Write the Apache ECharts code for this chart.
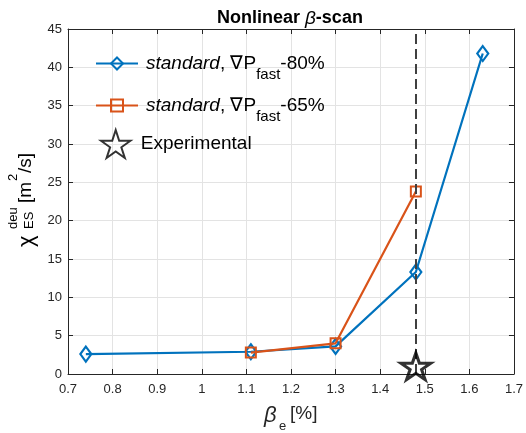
<!DOCTYPE html>
<html>
<head>
<meta charset="utf-8">
<script src="https://cdn.jsdelivr.net/npm/echarts@6/dist/echarts.min.js"></script>
<style>
html,body{margin:0;padding:0;background:#fff;}
#c{width:526px;height:433px;}
</style>
</head>
<body>
<div id="c"></div>
<script>
// ---- data ----
const blueX = [0.74, 1.11, 1.30, 1.48, 1.63];
const blueY = [2.6, 2.9, 3.6, 13.3, 41.8];
const orangeX = [1.11, 1.30, 1.48];
const orangeY = [2.8, 4.0, 23.8];
const expX = [1.48];
const expY = [1.0];
const xTicks = [0.7, 0.8, 0.9, 1.0, 1.1, 1.2, 1.3, 1.4, 1.5, 1.6, 1.7];
const yTicks = [0, 5, 10, 15, 20, 25, 30, 35, 40, 45];
const seriesNames = ['s80', 's65', 'Experimental'];
const legendTexts = {
  s80: '{i|standard}{m|, ∇P}{s|fast}{m|-80%}',
  s65: '{i|standard}{m|, ∇P}{s|fast}{m|-65%}',
  Experimental: '{e|Experimental}'
};

const BLUE = '#0072BD', ORANGE = '#D95319';
const FONT = '"Liberation Sans", Arial, Helvetica, sans-serif';
const STAR = 'path://M100,0 L122.45,69.1 L195.1,69.1 L136.33,111.8 L158.78,180.9 L100,138.2 L41.22,180.9 L63.67,111.8 L4.9,69.1 L77.55,69.1 Z';

const pairs = (xs, ys) => xs.map((x, i) => [x, ys[i]]);
const fmtX = v => String(Math.round(v * 10) / 10);

const chart = echarts.init(document.getElementById('c'), null, {renderer: 'canvas'});

const axisLineStyle = {color: '#262626', width: 1};
const richLegend = {
  i: {fontFamily: FONT, fontSize: 19, fontStyle: 'italic', color: '#000', lineHeight: 22, padding: [10, 0, 10, 3]},
  m: {fontFamily: FONT, fontSize: 19, color: '#000', lineHeight: 22, padding: [10, 0, 10, 0]},
  s: {fontFamily: FONT, fontSize: 15, color: '#000', lineHeight: 22, padding: [22, 0, 0, 0]},
  e: {fontFamily: FONT, fontSize: 19, color: '#000', lineHeight: 22, padding: [0, 0, 0, 5]}
};

const option = {
  backgroundColor: '#fff',
  animation: false,
  title: {
    text: 'Nonlinear {b|β}-scan',
    left: 212, top: 4,
    textStyle: {
      fontFamily: FONT, fontSize: 18, fontWeight: 'bold', color: '#000',
      rich: {b: {fontFamily: FONT, fontSize: 19, fontStyle: 'italic', fontWeight: 'normal', color: '#000'}}
    }
  },
  grid: {left: 68, right: 9, top: 29, bottom: 59, show: false},
  legend: [
    {
      data: [seriesNames[0], seriesNames[1]],
      orient: 'vertical', left: 95, top: 41, padding: 0,
      itemWidth: 42, itemHeight: 15, itemGap: 1,
      formatter: n => legendTexts[n],
      textStyle: {rich: richLegend},
      selectedMode: false
    },
    {
      data: [seriesNames[2]],
      orient: 'vertical', left: 100, top: 129, padding: 0,
      itemWidth: 30, itemHeight: 28,
      formatter: n => legendTexts[n],
      textStyle: {rich: richLegend},
      selectedMode: false
    }
  ],
  xAxis: [
    {
      type: 'value', min: 0.7, max: 1.7, interval: 0.1, position: 'bottom',
      axisLine: {show: true, onZero: false, lineStyle: axisLineStyle},
      axisTick: {show: true, inside: true, length: 5, lineStyle: axisLineStyle},
      axisLabel: {formatter: fmtX, color: '#262626', fontFamily: FONT, fontSize: 13, margin: 9},
      splitLine: {show: true, lineStyle: {color: '#e3e3e3', width: 1}}
    },
    {
      type: 'value', min: 0.7, max: 1.7, interval: 0.1, position: 'top',
      axisLine: {show: true, onZero: false, lineStyle: axisLineStyle},
      axisTick: {show: true, inside: true, length: 5, lineStyle: axisLineStyle},
      axisLabel: {show: false}, splitLine: {show: false}
    }
  ],
  yAxis: [
    {
      type: 'value', min: 0, max: 45, interval: 5, position: 'left',
      axisLine: {show: true, onZero: false, lineStyle: axisLineStyle},
      axisTick: {show: true, inside: true, length: 5, lineStyle: axisLineStyle},
      axisLabel: {color: '#262626', fontFamily: FONT, fontSize: 13, margin: 6},
      splitLine: {show: true, lineStyle: {color: '#e3e3e3', width: 1}}
    },
    {
      type: 'value', min: 0, max: 45, interval: 5, position: 'right',
      axisLine: {show: true, onZero: false, lineStyle: axisLineStyle},
      axisTick: {show: true, inside: true, length: 5, lineStyle: axisLineStyle},
      axisLabel: {show: false}, splitLine: {show: false}
    }
  ],
  series: [
    {
      name: seriesNames[0], type: 'line', data: pairs(blueX, blueY),
      symbol: 'diamond', symbolSize: [11, 15],
      lineStyle: {color: BLUE, width: 2.2},
      itemStyle: {color: 'rgba(255,255,255,0)', borderColor: BLUE, borderWidth: 2.2},
      z: 3
    },
    {
      name: seriesNames[1], type: 'line', data: pairs(orangeX, orangeY),
      symbol: 'rect', symbolSize: 10,
      lineStyle: {color: ORANGE, width: 2.2},
      itemStyle: {color: 'rgba(255,255,255,0)', borderColor: ORANGE, borderWidth: 2},
      z: 4
    },
    {
      name: seriesNames[2], type: 'scatter', data: pairs(expX, expY),
      symbol: STAR, symbolSize: [30, 28], symbolKeepAspect: true,
      itemStyle: {color: 'rgba(255,255,255,0)', borderColor: '#000', borderWidth: 3},
      clip: false, z: 5,
      markLine: {
        silent: true, symbol: ['none', 'none'],
        label: {show: false},
        lineStyle: {color: '#404040', width: 2, type: [10, 5]},
        data: [{xAxis: expX[0]}]
      }
    }
  ],
  graphic: [
    {
      type: 'group', x: 26, y: 247, rotation: Math.PI / 2,
      children: [
        {type: 'text', x: 0, y: 1, style: {text: 'χ', font: '22px ' + FONT, fill: '#000', align: 'left', verticalAlign: 'middle'}},
        {type: 'text', x: 18, y: -12.5, style: {text: 'deu', font: '13px ' + FONT, fill: '#000', align: 'left', verticalAlign: 'middle'}},
        {type: 'text', x: 18, y: 3, style: {text: 'ES', font: '13px ' + FONT, fill: '#000', align: 'left', verticalAlign: 'middle'}},
        {type: 'text', x: 44, y: 0, style: {text: '[m', font: '19px ' + FONT, fill: '#000', align: 'left', verticalAlign: 'middle'}},
        {type: 'text', x: 66, y: -13, style: {text: '2', font: '13px ' + FONT, fill: '#000', align: 'left', verticalAlign: 'middle'}},
        {type: 'text', x: 74, y: 0, style: {text: '/s]', font: '19px ' + FONT, fill: '#000', align: 'left', verticalAlign: 'middle'}}
      ]
    },
    {type: 'text', x: 264, y: 416, style: {text: 'β', font: 'italic 22px ' + FONT, fill: '#262626', align: 'left', verticalAlign: 'middle'}},
    {type: 'text', x: 279, y: 426, style: {text: 'e', font: '13px ' + FONT, fill: '#262626', align: 'left', verticalAlign: 'middle'}},
    {type: 'text', x: 290, y: 414, style: {text: '[%]', font: '19px ' + FONT, fill: '#262626', align: 'left', verticalAlign: 'middle'}}
  ]
};
option.legend[0].top = 44;
option.legend[0].itemGap = 3;
chart.setOption(option);
</script>
</body>
</html>
